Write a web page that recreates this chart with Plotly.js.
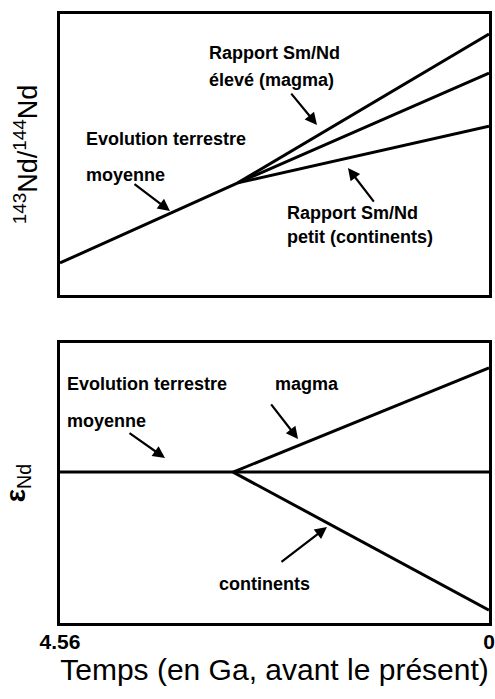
<!DOCTYPE html>
<html>
<head>
<meta charset="utf-8">
<script src="https://cdn.plot.ly/plotly-3.0.1.min.js"></script>
<style>html,body{margin:0;padding:0;background:#fff;}#chart{width:495px;height:699px;}</style>
</head>
<body>
<div id="chart"></div>
<script>
// ---- Data (time in Ga before present; y values are arbitrary relative units) ----
const tickVals = [4.56, 0];
const tickLabels = ['4.56', '0'];

// Top panel: 143Nd/144Nd evolution
const tMeanTop = [4.56, 2.67, 0];
const meanTop = [11.4, 39.9, 79.0];
const tBranchTop = [2.67, 0];
const magmaTop = [39.9, 92.9];
const contTop = [39.9, 60.1];

// Bottom panel: epsilon Nd
const tMeanBot = [4.56, 0];
const meanBot = [53.9, 53.9];
const tBranchBot = [2.72, 0];
const magmaBot = [53.9, 91.1];
const contBot = [53.9, 4.6];

// Labels
const topLabels = [
  {text: 'Rapport Sm/Nd', x: 3.00, y: 86.1},
  {text: 'élevé (magma)', x: 3.00, y: 76.5},
  {text: 'Evolution terrestre', x: 4.305, y: 55.5},
  {text: 'moyenne', x: 4.305, y: 42.7},
  {text: 'Rapport Sm/Nd', x: 2.168, y: 29.2},
  {text: 'petit (continents)', x: 2.168, y: 20.6}
];
const botLabels = [
  {text: 'Evolution terrestre', x: 4.507, y: 85.4},
  {text: 'moyenne', x: 4.507, y: 72.0},
  {text: 'magma', x: 2.296, y: 85.4},
  {text: 'continents', x: 2.891, y: 14.1}
];
// Arrows: head (x,y) and tail (ax,ay) in data units
const topArrows = [
  {x: 1.828, y: 60.5, ax: 2.115, ay: 72.2},
  {x: 3.391, y: 29.9, ax: 3.784, ay: 39.9},
  {x: 1.499, y: 45.2, ax: 1.212, ay: 32.7}
];
const botArrows = [
  {x: 3.444, y: 58.9, ax: 3.837, ay: 68.2},
  {x: 2.030, y: 65.7, ax: 2.328, ay: 78.6},
  {x: 1.722, y: 34.3, ax: 2.222, ay: 21.4}
];

const FONT = 'Liberation Sans, Arial, Helvetica, sans-serif';
const lineStyle = {color: '#000', width: 3};

const traces = [
  {x: tMeanTop, y: meanTop, xaxis: 'x', yaxis: 'y'},
  {x: tBranchTop, y: magmaTop, xaxis: 'x', yaxis: 'y'},
  {x: tBranchTop, y: contTop, xaxis: 'x', yaxis: 'y'},
  {x: tMeanBot, y: meanBot, xaxis: 'x2', yaxis: 'y2'},
  {x: tBranchBot, y: magmaBot, xaxis: 'x2', yaxis: 'y2'},
  {x: tBranchBot, y: contBot, xaxis: 'x2', yaxis: 'y2'}
].map(t => Object.assign(t, {type: 'scatter', mode: 'lines', line: lineStyle, hoverinfo: 'skip', showlegend: false}));

const annotations = [];
function addLabels(list, xr, yr) {
  list.forEach(l => annotations.push({
    text: l.text, x: l.x, y: l.y, xref: xr, yref: yr,
    xanchor: 'left', yanchor: 'middle', showarrow: false,
    font: {family: FONT, size: 18, color: '#000', weight: 'bold'}
  }));
}
function addArrows(list, xr, yr) {
  list.forEach(a => annotations.push({
    text: '', x: a.x, y: a.y, ax: a.ax, ay: a.ay, xref: xr, yref: yr, axref: xr, ayref: yr,
    showarrow: true, arrowhead: 2, arrowsize: 1.1, arrowwidth: 2.2, arrowcolor: '#000', standoff: 0, startstandoff: 0
  }));
}
addLabels(topLabels, 'x', 'y');
addLabels(botLabels, 'x2', 'y2');
addArrows(topArrows, 'x', 'y');
addArrows(botArrows, 'x2', 'y2');

const axBase = {showline: true, mirror: true, linewidth: 3, linecolor: '#000', showgrid: false, zeroline: false, ticks: '', fixedrange: true};

const layout = {
  width: 495, height: 699,
  margin: {l: 60, r: 6, t: 14, b: 76},
  paper_bgcolor: '#fff', plot_bgcolor: '#fff',
  font: {family: FONT, color: '#000'},
  showlegend: false,
  xaxis: Object.assign({}, axBase, {domain: [0, 1], range: [4.56, 0], anchor: 'y', showticklabels: false}),
  yaxis: Object.assign({}, axBase, {domain: [0.5386, 1], range: [0, 100], anchor: 'x', showticklabels: false,
    title: {text: '<sup>143</sup>Nd/<sup>144</sup>Nd', font: {family: FONT, size: 27, color: '#000'}, standoff: 12}}),
  xaxis2: Object.assign({}, axBase, {domain: [0, 1], range: [4.56, 0], anchor: 'y2',
    tickmode: 'array', tickvals: tickVals, ticktext: tickLabels, ticklabeloverflow: 'allow', ticklabelstandoff: -2,
    tickfont: {family: FONT, size: 21, color: '#000', weight: 'bold'},
    title: {text: 'Temps (en Ga, avant le présent)', font: {family: FONT, size: 30, color: '#000'}, standoff: 6}}),
  yaxis2: Object.assign({}, axBase, {domain: [0, 0.4598], range: [0, 100], anchor: 'x2', showticklabels: false,
    title: {text: '<b>ε</b><sub>Nd</sub>', font: {family: FONT, size: 28, color: '#000'}, standoff: 30}}),
  annotations: annotations
};

Plotly.newPlot('chart', traces, layout, {staticPlot: true, displayModeBar: false});
</script>
</body>
</html>
